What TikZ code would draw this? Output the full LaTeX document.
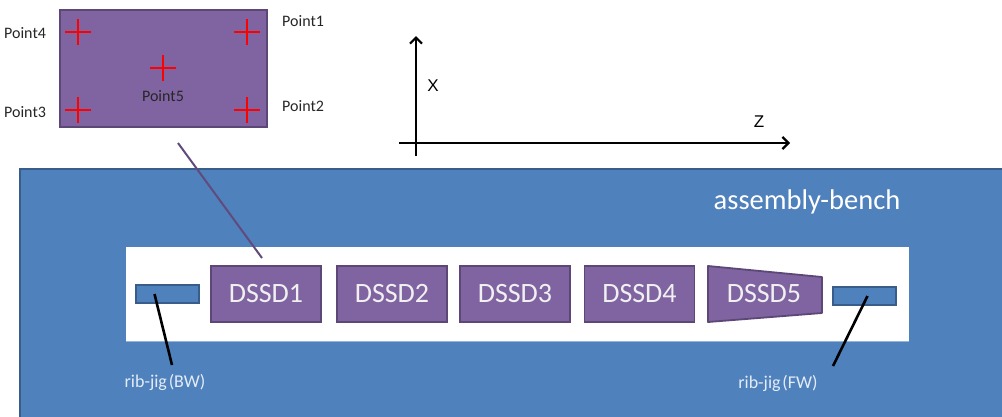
\documentclass[tikz,border=0pt]{standalone}
\usepackage{fontspec}
\setmainfont{Carlito}
\newfontfamily\axisfont{Liberation Sans}
\usetikzlibrary{arrows.meta}
\definecolor{bench}{HTML}{4F81BD}
\definecolor{benchedge}{HTML}{385D8A}
\definecolor{det}{HTML}{8064A2}
\definecolor{detedge}{HTML}{5C4776}
\definecolor{labeltxt}{HTML}{E4ECF6}
\definecolor{pointtxt}{HTML}{262626}
\tikzset{
  detbox/.style={draw=detedge, fill=det, line width=1.8pt, minimum width=110pt, minimum height=56pt,
    inner sep=0pt, text=white!94!black, font=\fontsize{28}{30}\selectfont},
  jigbar/.style={draw=benchedge, fill=bench, line width=1.6pt, minimum width=63pt, minimum height=18pt, inner sep=0pt},
  crossline/.style={draw=red, line width=2.4pt},
  ptlabel/.style={text=pointtxt, font=\fontsize{16}{18}\selectfont, inner sep=0pt},
  jiglabel/.style={text=labeltxt, font=\fontsize{18}{20}\selectfont, inner sep=0pt},
  axis/.style={line width=2.4pt, -{Straight Barb[length=6pt,width=12pt,line width=2.2pt]}},
  leader/.style={line width=2.6pt, black},
}
\newcommand\redcross[1]{\draw[crossline] ([xshift=-13pt]#1) -- ([xshift=13pt]#1) ([yshift=-13pt]#1) -- ([yshift=13pt]#1);}
\begin{document}
\begin{tikzpicture}[x=1pt,y=-1pt]
\useasboundingbox (0,0) rectangle (1002,416);
\clip (0,0) rectangle (1002,416);

% detector face with its five survey points
\node[draw=detedge, fill=det, line width=1.8pt, minimum width=207pt, minimum height=117pt, inner sep=0pt] (face) at (163.5,68.5) {};
\coordinate (p4) at (78,32);
\coordinate (p1) at (247,32);
\coordinate (p5) at (163,68);
\coordinate (p3) at (78,110);
\coordinate (p2) at (247,110);
\redcross{p1}\redcross{p2}\redcross{p3}\redcross{p4}\redcross{p5}
\node[ptlabel, anchor=west] (l4) at (4,33) {Point4};
\node[ptlabel, anchor=west] (l1) at (282,21) {Point1};
\node[ptlabel, anchor=west] (l3) at (4,112) {Point3};
\node[ptlabel, anchor=west] (l2) at (282,106) {Point2};
\node[ptlabel] (l5) at (163,96) {Point5};

% coordinate axes
\coordinate (xbase) at (416,156);
\coordinate (xtip) at (416,36);
\coordinate (zbase) at (399,143);
\coordinate (ztip) at (790,143);
\draw[axis] (xbase) -- (xtip);
\draw[axis] (zbase) -- (ztip);
\node[font=\axisfont\fontsize{17}{19}\selectfont, inner sep=0pt] (xlab) at (433,86) {X};
\node[font=\axisfont\fontsize{17}{19}\selectfont, inner sep=0pt] (zlab) at (759,122) {Z};

% bench and the white support plate
\draw[draw=benchedge, fill=bench, line width=1.5pt] (20,169) rectangle (1012,430);
\node[text=white, font=\fontsize{28.5}{30}\selectfont, inner sep=0pt] (benchlab) at (807,202) {assembly-bench};
\fill[white] (126,247) rectangle (909,341);
\draw[bench!60!white, line width=0.8pt] (126,341) -- (909,341);

% detectors
\node[detbox] (d1) at (266,294) {DSSD1};
\node[detbox] (d2) at (392,294) {DSSD2};
\node[detbox] (d3) at (515,294) {DSSD3};
\node[detbox] (d4) at (639.5,294) {DSSD4};
\coordinate (t1) at (708,266);
\coordinate (t2) at (822,277);
\coordinate (t3) at (822,313);
\coordinate (t4) at (708,322);
\draw[draw=detedge, fill=det, line width=1.8pt, line join=round] (t1) -- (t2) -- (t3) -- (t4) -- cycle;
\node[text=white!94!black, font=\fontsize{28}{30}\selectfont, inner sep=0pt] (d5) at (764,294) {DSSD5};

% rib-jigs
\node[jigbar] (jbw) at (167.5,294) {};
\node[jigbar] (jfw) at (864.5,296) {};
\coordinate (jbwstart) at ([xshift=-13pt]jbw.center);
\coordinate (jfwstart) at ([xshift=3pt]jfw.center);
\coordinate (jbwend) at (172,365);
\coordinate (jfwend) at (833,366);
\draw[leader] (jbwstart) -- (jbwend);
\draw[leader] (jfwstart) -- (jfwend);
\node[jiglabel] (lbw) at (165,382) {rib-jig\hspace{0.1em}(BW)};
\node[jiglabel] (lfw) at (778,383) {rib-jig\hspace{0.1em}(FW)};

% link from the face view to its detector
\coordinate (linkA) at (178,143);
\coordinate (linkB) at (262,258);
\draw[detedge!85!det, line width=2pt] (linkA) -- (linkB);
\end{tikzpicture}
\end{document}
